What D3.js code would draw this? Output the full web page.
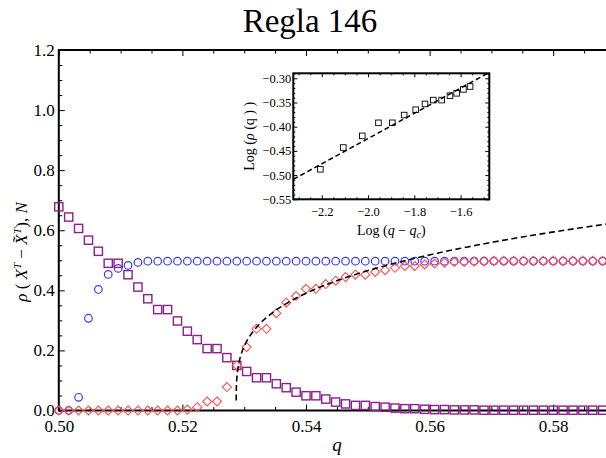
<!DOCTYPE html>
<html><head><meta charset="utf-8">
<script src="https://cdn.jsdelivr.net/npm/d3@7"></script>
<style>body{margin:0;background:#fff}svg{display:block}</style>
</head><body>
<svg id="c" width="606" height="458"></svg>
<script>
// ---------------- data ----------------
const qValues = [
  0.5000,0.5016,0.5032,0.5048,0.5064,0.5080,0.5096,0.5112,0.5128,0.5144,
  0.5160,0.5176,0.5192,0.5208,0.5224,0.5240,0.5256,0.5272,0.5288,0.5304,
  0.5320,0.5336,0.5352,0.5368,0.5384,0.5400,0.5416,0.5432,0.5448,0.5464,
  0.5480,0.5496,0.5512,0.5528,0.5544,0.5560,0.5576,0.5592,0.5608,0.5624,
  0.5640,0.5656,0.5672,0.5688,0.5704,0.5720,0.5736,0.5752,0.5768,0.5784,
  0.5800,0.5816,0.5832,0.5848,0.5864,0.5880];
const circleN = [
  0,0,0.044,0.307,0.403,0.453,0.473,0.483,0.493,0.497,
  0.497,0.497,0.497,0.497,0.497,0.497,0.497,0.497,0.497,0.497,
  0.497,0.497,0.497,0.497,0.497,0.497,0.497,0.497,0.497,0.497,
  0.497,0.497,0.497,0.497,0.497,0.497,0.497,0.497,0.497,0.497,
  0.497,0.497,0.497,0.497,0.497,0.497,0.497,0.497,0.497,0.497,
  0.497,0.497,0.497,0.497,0.497,0.497];
const squareRho = [
  0.678,0.644,0.606,0.567,0.530,0.490,0.490,0.452,0.411,0.372,
  0.336,0.336,0.298,0.264,0.236,0.206,0.206,0.176,0.150,0.130,
  0.109,0.109,0.089,0.076,0.061,0.049,0.049,0.038,0.028,0.022,
  0.017,0.017,0.013,0.011,0.008,0.006,0.006,0.004,0.003,0.003,
  0.002,0.002,0.002,0.001,0.001,0.001,0.001,0.001,0.001,0.001,
  0.001,0.001,0.001,0.001,0.001,0.001];
const diamondRho = [
  0,0,0,0,0,0,0,0,0,0,
  0,0,0,0.003,0.011,0.030,0.030,0.078,0.150,0.211,
  0.272,0.272,0.324,0.359,0.381,0.405,0.405,0.421,0.432,0.444,
  0.452,0.452,0.461,0.467,0.475,0.481,0.481,0.486,0.489,0.492,
  0.494,0.494,0.496,0.497,0.498,0.498,0.498,0.498,0.498,0.498,
  0.498,0.498,0.498,0.498,0.498,0.498];
// power-law fit rho = A (q - qc)^beta
const fitQc = 0.5287, fitA = 1.357, fitBeta = 0.278;
// inset (log10 scale)
const insetLogDq  = [-2.206,-2.107,-2.025,-1.955,-1.895,-1.844,-1.794,-1.754,-1.718,-1.682,-1.646,-1.617,-1.588,-1.559];
const insetLogRho = [-0.488,-0.443,-0.419,-0.392,-0.392,-0.376,-0.365,-0.353,-0.345,-0.345,-0.336,-0.331,-0.323,-0.317];
const insetSlope = 0.2607, insetIntercept = 0.0969;
const xTicks = [0.50,0.52,0.54,0.56,0.58];
const yTicks = [0,0.2,0.4,0.6,0.8,1.0,1.2];
const insetXTicks = [-2.2,-2.0,-1.8,-1.6];
const insetYTicks = [-0.55,-0.50,-0.45,-0.40,-0.35,-0.30];

// ---------------- layout ----------------
const svg = d3.select('#c');
const SERIF = "'Liberation Serif','Times New Roman',serif";
const x = d3.scaleLinear().domain([0.5,0.59]).range([58.8,615]);
const y = d3.scaleLinear().domain([0,1.2]).range([410.5,50]);

svg.append('defs').append('clipPath').attr('id','plotClip')
  .append('rect').attr('x',x.range()[0]).attr('y',y.range()[1])
  .attr('width',x.range()[1]-x.range()[0]).attr('height',y.range()[0]-y.range()[1]);

function styleAxis(g, size){
  g.select('.domain').remove();
  g.selectAll('line').attr('stroke','#000').attr('stroke-width',1);
  g.selectAll('text').attr('font-family',SERIF).attr('font-size',size).attr('fill','#000');
  g.attr('font-family',null).attr('font-size',null);
}
function minorVals(domain, step, majors){
  const out=[];
  const start=Math.ceil(domain[0]/step-1e-9)*step;
  for(let v=start; v<=domain[1]+1e-9; v+=step){
    if(!majors.some(m=>Math.abs(m-v)<1e-9)) out.push(+v.toFixed(6));
  }
  return out;
}

// main axes
const gx = svg.append('g').attr('transform',`translate(0,${y(0)})`)
  .call(d3.axisBottom(x).tickValues(xTicks).tickSize(-6).tickPadding(9).tickFormat(d3.format('.2f')));
styleAxis(gx,17);
styleAxis(svg.append('g').attr('transform',`translate(0,${y(0)})`)
  .call(d3.axisBottom(x).tickValues(minorVals(x.domain(),0.005,xTicks)).tickSize(-3.5).tickFormat('')),17);
styleAxis(svg.append('g').attr('transform',`translate(0,${y(1.2)})`)
  .call(d3.axisTop(x).tickValues(xTicks).tickSize(-6).tickFormat('')),17);
styleAxis(svg.append('g').attr('transform',`translate(0,${y(1.2)})`)
  .call(d3.axisTop(x).tickValues(minorVals(x.domain(),0.005,xTicks)).tickSize(-3.5).tickFormat('')),17);
const gy = svg.append('g').attr('transform',`translate(${x(0.5)},0)`)
  .call(d3.axisLeft(y).tickValues(yTicks).tickSize(-6).tickPadding(4).tickFormat(d3.format('.1f')));
styleAxis(gy,17);
styleAxis(svg.append('g').attr('transform',`translate(${x(0.5)},0)`)
  .call(d3.axisLeft(y).tickValues(minorVals(y.domain(),0.05,yTicks)).tickSize(-3.5).tickFormat('')),17);

// frame
svg.append('rect').attr('x',x.range()[0]).attr('y',y.range()[1])
  .attr('width',x.range()[1]-x.range()[0]).attr('height',y.range()[0]-y.range()[1])
  .attr('stroke','#000').attr('stroke-width',2).attr('fill','none');

// series
const pts = qValues.map((q,i)=>({q, c:circleN[i], s:squareRho[i], d:diamondRho[i]}));
svg.append('g').selectAll('circle').data(pts).join('circle')
  .attr('cx',d=>x(d.q)).attr('cy',d=>y(d.c)).attr('r',3.8)
  .attr('fill','none').attr('stroke','#3a3af5').attr('stroke-width',1.2);
const sq = 8.2;
svg.append('g').selectAll('rect').data(pts).join('rect')
  .attr('x',d=>x(d.q)-sq/2).attr('y',d=>y(d.s)-sq/2).attr('width',sq).attr('height',sq)
  .attr('fill','none').attr('stroke','#8c1f8c').attr('stroke-width',1.4);
const dm = 4.5;
svg.append('g').selectAll('path').data(pts).join('path')
  .attr('d',d=>{const cx=x(d.q), cy=y(d.d); return `M${cx},${cy-dm}L${cx+dm},${cy}L${cx},${cy+dm}L${cx-dm},${cy}Z`;})
  .attr('fill','none').attr('stroke','#ff5252').attr('stroke-width',1.1);

// fit curve
const fitPts = d3.range(0,301).map(k=>{
  const dq = Math.exp(Math.log(1.6e-6) + k/300*(Math.log(x.domain()[1]-fitQc)-Math.log(1.6e-6)));
  return [fitQc+dq, fitA*Math.pow(dq,fitBeta)];
});
svg.append('path').attr('clip-path','url(#plotClip)')
  .attr('d',d3.line().x(d=>x(d[0])).y(d=>y(d[1]))(fitPts))
  .attr('fill','none').attr('stroke','#000').attr('stroke-width',1.6).attr('stroke-dasharray','6,3.5');

// title
svg.append('text').attr('x',310).attr('y',32).attr('text-anchor','middle')
  .attr('font-family',SERIF).attr('font-size',33).text('Regla 146');

// x label
svg.append('text').attr('x',(x.range()[0]+x.range()[1])/2).attr('y',451).attr('text-anchor','middle')
  .attr('font-family',SERIF).attr('font-size',19).attr('font-style','italic').text('q');

// y label
const yl = svg.append('text').attr('transform',`translate(27,252) rotate(-90)`).attr('text-anchor','middle')
  .attr('font-family',SERIF).attr('font-size',17);
yl.append('tspan').attr('font-style','italic').text('ρ');
yl.append('tspan').text(' ( ');
yl.append('tspan').attr('font-style','italic').text('X');
yl.append('tspan').attr('font-style','italic').attr('font-size',11).attr('dy',-6).text('T');
yl.append('tspan').attr('dy',6).text(' − ');
yl.append('tspan').attr('font-style','italic').text('X');
yl.append('tspan').attr('dx',-7.5).attr('dy',-3.5).text('˜');
yl.append('tspan').attr('font-style','italic').attr('font-size',11).attr('dx',2.4).attr('dy',-2.5).text('T');
yl.append('tspan').attr('dy',6).text('), ');
yl.append('tspan').attr('font-style','italic').text('N');

// ---------------- inset ----------------
const ix = d3.scaleLinear().domain([-2.323,-1.476]).range([293.3,489.3]);
const iy = d3.scaleLinear().domain([-0.55,-0.2897]).range([199.3,73.3]);
const ins = svg.append('g');
ins.append('rect').attr('x',ix.range()[0]).attr('y',iy.range()[1])
  .attr('width',ix.range()[1]-ix.range()[0]).attr('height',iy.range()[0]-iy.range()[1]).attr('fill','#fff');
ins.append('defs').append('clipPath').attr('id','insetClip').append('rect')
  .attr('x',ix.range()[0]).attr('y',iy.range()[1])
  .attr('width',ix.range()[1]-ix.range()[0]).attr('height',iy.range()[0]-iy.range()[1]);
const ixMinor = minorVals(ix.domain(),0.05,insetXTicks);
const iyMinor = minorVals(iy.domain(),0.01,insetYTicks);
const fmtMinus = f => d => d3.format(f)(d).replace('-','−');
styleAxis(ins.append('g').attr('transform',`translate(0,${iy.range()[0]})`)
  .call(d3.axisBottom(ix).tickValues(insetXTicks).tickSize(-4).tickPadding(8).tickFormat(fmtMinus('.1f'))),12.5);
styleAxis(ins.append('g').attr('transform',`translate(0,${iy.range()[0]})`)
  .call(d3.axisBottom(ix).tickValues(ixMinor).tickSize(-2).tickFormat('')),12);
styleAxis(ins.append('g').attr('transform',`translate(0,${iy.range()[1]})`)
  .call(d3.axisTop(ix).tickValues(insetXTicks).tickSize(-4).tickFormat('')),12);
styleAxis(ins.append('g').attr('transform',`translate(0,${iy.range()[1]})`)
  .call(d3.axisTop(ix).tickValues(ixMinor).tickSize(-2).tickFormat('')),12);
styleAxis(ins.append('g').attr('transform',`translate(${ix.range()[0]},0)`)
  .call(d3.axisLeft(iy).tickValues(insetYTicks).tickSize(-4).tickPadding(2).tickFormat(fmtMinus('.2f'))),12.5);
styleAxis(ins.append('g').attr('transform',`translate(${ix.range()[0]},0)`)
  .call(d3.axisLeft(iy).tickValues(iyMinor).tickSize(-2).tickFormat('')),12);
styleAxis(ins.append('g').attr('transform',`translate(${ix.range()[1]},0)`)
  .call(d3.axisRight(iy).tickValues(insetYTicks).tickSize(-4).tickFormat('')),12);
styleAxis(ins.append('g').attr('transform',`translate(${ix.range()[1]},0)`)
  .call(d3.axisRight(iy).tickValues(iyMinor).tickSize(-2).tickFormat('')),12);

// inset fit line
ins.append('path').attr('clip-path','url(#insetClip)')
  .attr('d',d3.line()(ix.domain().map(v=>[ix(v), iy(insetSlope*v+insetIntercept)])))
  .attr('fill','none').attr('stroke','#000').attr('stroke-width',1.5).attr('stroke-dasharray','5,3');
// inset points
const isq = 5.6;
ins.append('g').selectAll('rect').data(insetLogDq.map((v,i)=>[v,insetLogRho[i]])).join('rect')
  .attr('x',d=>ix(d[0])-isq/2).attr('y',d=>iy(d[1])-isq/2).attr('width',isq).attr('height',isq)
  .attr('fill','none').attr('stroke','#000').attr('stroke-width',0.9);
// inset frame
ins.append('rect').attr('x',ix.range()[0]).attr('y',iy.range()[1])
  .attr('width',ix.range()[1]-ix.range()[0]).attr('height',iy.range()[0]-iy.range()[1])
  .attr('fill','none').attr('stroke','#000').attr('stroke-width',2);

// inset labels
const ixl = ins.append('text').attr('x',(ix.range()[0]+ix.range()[1])/2).attr('y',235).attr('text-anchor','middle')
  .attr('font-family',SERIF).attr('font-size',14);
ixl.append('tspan').text('Log (');
ixl.append('tspan').attr('font-style','italic').text('q');
ixl.append('tspan').text(' − ');
ixl.append('tspan').attr('font-style','italic').text('q');
ixl.append('tspan').attr('font-style','italic').attr('font-size',10).attr('dy','0.25em').text('c');
ixl.append('tspan').attr('dy','-0.18em').text(')');
const iyl = ins.append('text').attr('transform',`translate(254,${(iy.range()[0]+iy.range()[1])/2}) rotate(-90)`)
  .attr('text-anchor','middle').attr('font-family',SERIF).attr('font-size',14);
iyl.append('tspan').text('Log (');
iyl.append('tspan').attr('font-style','italic').text('ρ');
iyl.append('tspan').text(' (q ) )');
</script>
</body></html>
